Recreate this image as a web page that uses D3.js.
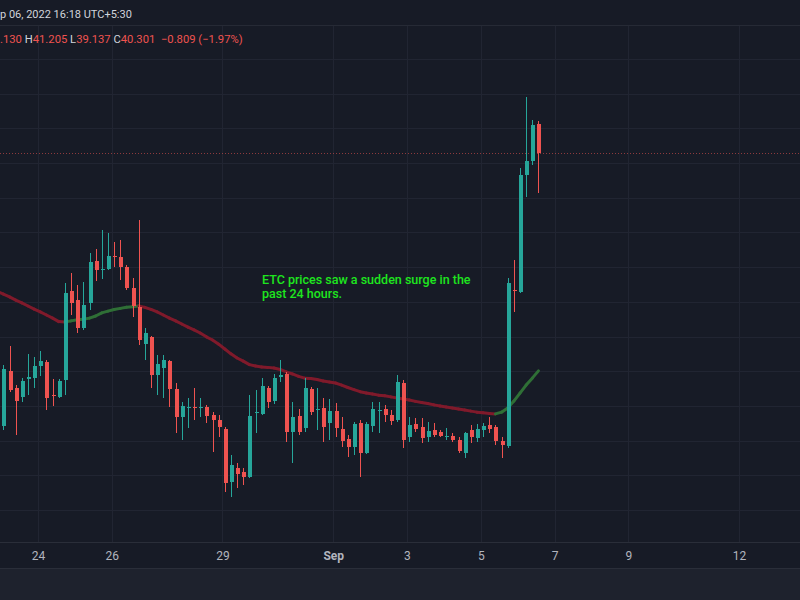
<!DOCTYPE html>
<html>
<head>
<meta charset="utf-8">
<script src="https://cdn.jsdelivr.net/npm/d3@7"></script>
<style>
  html, body { margin: 0; padding: 0; background: #171b26; }
  svg { display: block; }
</style>
</head>
<body>
<svg id="chart" width="800" height="600"></svg>
<script>
// ---------- DATA (ETC/USD, 4h candles, local time UTC+5:30) ----------
const firstCandle = "2022-08-23T01:30";   // first visible 4h bar
const barHours = 4;

const opens  = [32.42,34.01,33.52,33.26,33.78,33.80,34.15,34.27,33.31,33.26,
                33.75,36.31,36.05,35.25,35.97,37.18,36.92,36.94,37.32,37.29,
                37.00,36.40,35.85,34.78,34.99,33.89,34.09,34.29,33.49,32.68,
                32.94,32.97,32.94,32.97,32.74,32.59,32.33,30.81,31.21,31.10,
                30.95,32.80,32.77,33.52,33.14,33.83,33.92,32.25,32.71,32.36,
                33.49,32.88,32.94,32.51,32.85,32.33,32.05,31.82,32.51,31.64,
                32.42,32.85,32.91,32.74,32.59,33.66,32.10,32.48,32.39,32.10,
                32.31,32.25,32.13,32.13,32.02,31.64,32.31,32.08,32.31,32.45,
                32.39,31.99,31.84,36.34,36.28,39.65,40.06,41.130];
const highs  = [34.18,34.73,33.60,33.80,34.50,34.41,34.58,34.32,33.78,33.78,
                36.54,36.83,36.48,36.57,37.41,37.52,38.07,37.98,37.72,37.78,
                37.06,36.69,38.36,35.25,35.02,34.47,34.47,34.32,33.66,33.11,
                33.23,33.52,33.23,33.03,32.82,32.74,32.39,31.59,31.35,31.21,
                33.31,33.46,33.80,33.57,33.92,34.32,33.98,33.11,32.91,33.80,
                33.54,33.52,33.23,33.20,33.08,32.68,32.16,32.54,32.59,32.54,
                33.11,33.11,33.03,32.88,33.89,33.75,32.68,32.65,32.65,32.54,
                32.51,32.31,32.36,32.22,32.10,32.25,32.45,32.48,32.51,32.68,
                32.45,32.10,36.69,37.20,39.86,41.90,41.24,41.205];
const lows   = [32.31,33.40,32.16,33.11,33.31,33.52,33.86,32.88,33.00,33.23,
                33.31,35.62,35.10,35.19,35.76,36.60,36.66,36.92,37.00,36.63,
                36.34,35.56,34.75,34.32,33.52,33.31,33.23,32.97,32.22,32.02,
                32.36,32.59,32.68,32.51,31.67,32.10,30.52,30.37,30.63,30.72,
                30.92,32.22,32.74,32.94,33.06,33.69,31.96,31.35,32.16,32.25,
                32.74,32.31,31.96,32.02,32.10,31.82,31.53,31.59,30.95,31.60,
                32.25,32.22,32.54,32.45,32.54,31.79,31.96,32.25,31.93,31.96,
                32.10,32.10,32.02,31.96,31.64,31.50,31.93,31.96,32.10,32.22,
                31.87,31.50,31.80,35.71,36.25,39.02,39.94,39.137];
const closes = [34.06,33.46,33.14,33.72,33.83,34.15,34.29,33.23,33.29,33.72,
                36.25,35.97,35.25,35.91,37.15,36.92,36.94,37.32,37.29,37.00,
                36.40,35.88,34.90,35.10,33.89,34.21,34.32,33.49,32.68,33.00,
                32.97,32.94,32.97,32.71,32.59,32.39,30.78,31.30,31.04,30.95,
                32.71,32.82,33.57,33.11,33.80,33.89,32.25,32.68,32.25,33.52,
                32.82,32.91,32.39,32.85,32.36,31.99,31.82,32.48,31.64,32.48,
                32.91,32.88,32.74,32.56,33.69,32.02,32.45,32.33,32.08,32.28,
                32.16,32.13,32.14,32.02,31.70,32.22,32.10,32.33,32.42,32.33,
                31.99,31.87,36.54,36.31,39.65,40.06,41.09,40.301];

// moving average, starting one bar before the first visible candle
const maStart = "2022-08-22T21:30";
const maValues = [36.30,
  36.22,36.14,36.05,35.97,35.88,35.79,35.71,35.62,35.53,35.43,
  35.42,35.45,35.48,35.50,35.53,35.59,35.68,35.73,35.78,35.81,
  35.84,35.86,35.88,35.84,35.78,35.71,35.62,35.53,35.45,35.36,
  35.27,35.19,35.10,34.99,34.90,34.78,34.64,34.50,34.38,34.29,
  34.19,34.15,34.12,34.11,34.09,34.05,33.98,33.92,33.85,33.80,
  33.79,33.76,33.72,33.69,33.66,33.60,33.53,33.47,33.41,33.37,
  33.34,33.31,33.29,33.26,33.23,33.20,33.17,33.13,33.10,33.07,
  33.03,33.00,32.97,32.94,32.91,32.88,32.85,32.82,32.80,32.78,
  32.77,32.82,32.94,33.14,33.37,33.60,33.80,34.01];

const tickDates  = ["2022-08-24","2022-08-26","2022-08-29","2022-09-01","2022-09-03",
                    "2022-09-05","2022-09-07","2022-09-09","2022-09-12"];
const tickLabels = ["24","26","29","Sep","3","5","7","9","12"];
const priceGrid  = [30,31,32,33,34,35,36,37,38,39,40,41,42,43,44];

const headerTime = "Sep 06, 2022 16:18 UTC+5:30";
const ohlcLabels = ["O","H","L","C"];
const ohlcValues = ["41.130","41.205","39.137","40.301"];
const changeText = "\u22120.809 (\u22121.97%)";
const noteLines  = ["ETC prices saw a sudden surge in the", "past 24 hours."];

// ---------- LAYOUT ----------
const W = 800, H = 600;
const topY = 25, axisTop = 542, axisBottom = 568;
const FONT = "Roboto, sans-serif";
const C = { bg:"#171b26", grid:"#212532", up:"#26a69a", down:"#ef5350",
            text:"#d1d4dc", axis:"#b2b5be", maUp:"#2f6f36", maDown:"#801a2b" };

const parse = d3.utcParse("%Y-%m-%dT%H:%M");
const parseDay = d3.utcParse("%Y-%m-%d");
const t0 = parse(firstCandle);
const candles = opens.map((o,i) => ({
  t: d3.utcHour.offset(t0, barHours*i), o, h: highs[i], l: lows[i], c: closes[i]
}));
const maT0 = parse(maStart);
const ma = maValues.map((v,i) => ({ t: d3.utcHour.offset(maT0, barHours*i), v }));
const ticks = tickDates.map(parseDay);

const pxPerDay = 36.9;
const x = d3.scaleUtc()
  .domain([t0, d3.utcDay.offset(t0, 20)])
  .range([3.4, 3.4 + 20*pxPerDay]);
const y = d3.scaleLinear().domain([30, 40]).range([510, 163]);

const svg = d3.select("#chart");
svg.append("rect").attr("width", W).attr("height", H).attr("fill", C.bg);

function measure(str, size, weight) {
  const t = svg.append("text").attr("font-family", FONT).attr("font-size", size)
    .attr("font-weight", weight || "normal").text(str);
  const w = t.node().getComputedTextLength();
  t.remove();
  return w;
}

svg.append("clipPath").attr("id","plot").append("rect")
  .attr("x",0).attr("y",topY).attr("width",W).attr("height",axisTop-topY);

const grid = svg.append("g").attr("clip-path","url(#plot)").attr("shape-rendering","crispEdges");
grid.selectAll("line.v").data(ticks).join("line").attr("class","v")
  .attr("x1", d => Math.round(x(d))+0.5).attr("x2", d => Math.round(x(d))+0.5)
  .attr("y1", topY).attr("y2", axisTop).attr("stroke", C.grid);
grid.selectAll("line.h").data(priceGrid).join("line").attr("class","h")
  .attr("x1", 0).attr("x2", W)
  .attr("y1", d => Math.round(y(d))+0.5).attr("y2", d => Math.round(y(d))+0.5)
  .attr("stroke", C.grid);

const plot = svg.append("g").attr("clip-path","url(#plot)");

// moving average, coloured by direction
const maSegs = d3.pairs(ma);
plot.append("g").selectAll("line").data(maSegs).join("line")
  .attr("x1", d => x(d[0].t)).attr("y1", d => y(d[0].v))
  .attr("x2", d => x(d[1].t)).attr("y2", d => y(d[1].v))
  .attr("stroke", d => d[1].v >= d[0].v ? C.maUp : C.maDown)
  .attr("stroke-width", 3).attr("stroke-linecap","round");

// last price dotted line
const last = candles[candles.length-1];
plot.append("line")
  .attr("x1", 0).attr("x2", W)
  .attr("y1", Math.round(y(last.c))+0.5).attr("y2", Math.round(y(last.c))+0.5)
  .attr("stroke", C.down).attr("stroke-opacity", 0.55)
  .attr("stroke-dasharray", "1,2");

// candles
const bw = 4;
const cg = plot.append("g").attr("shape-rendering","crispEdges");
const col = d => d.c >= d.o ? C.up : C.down;
cg.selectAll("line").data(candles).join("line")
  .attr("x1", d => Math.round(x(d.t))+0.5).attr("x2", d => Math.round(x(d.t))+0.5)
  .attr("y1", d => y(d.h)).attr("y2", d => y(d.l))
  .attr("stroke", col).attr("stroke-width", 1);
cg.selectAll("rect").data(candles).join("rect")
  .attr("x", d => Math.round(x(d.t)) - bw/2 + 0.5)
  .attr("width", bw)
  .attr("y", d => y(Math.max(d.o,d.c)))
  .attr("height", d => Math.max(1, Math.abs(y(d.o)-y(d.c))))
  .attr("fill", col);

// annotation (two separate lines)
svg.append("g").selectAll("text").data(noteLines).join("text")
  .attr("x", 262).attr("y", (d,i) => 284 + i*13.5)
  .attr("font-family", FONT).attr("font-size", 12.5).attr("font-weight", 500)
  .attr("fill", "#1ee61e").text(d => d);

// header line 1 — left part ("Se") falls outside the picture like the reference
svg.append("line").attr("x1",0).attr("x2",W).attr("y1",topY+0.5).attr("y2",topY+0.5)
  .attr("stroke","#262a35");
const hVisible = headerTime.slice(2);
const hSize = 12 * 132 / measure(hVisible, 12);
svg.append("text").attr("x", -measure(headerTime.slice(0,2), hSize)).attr("y", 18)
  .attr("font-family", FONT).attr("font-size", hSize)
  .attr("fill", C.text).text(headerTime);

// header line 2 — OHLC, with "O41" cut off at the left edge
const gapL = " ", gapC = "  ";
const visible2 = "." + ohlcValues[0].split(".")[1] + gapL +
  ohlcLabels.slice(1).map((l,i) => l + ohlcValues[i+1]).join(gapL) + gapC + changeText;
const oSize = 12 * 240 / measure(visible2, 12);
const cut = measure(ohlcLabels[0] + ohlcValues[0].split(".")[0], oSize);
const hdr = svg.append("text").attr("x", -cut).attr("y", 43)
  .attr("font-family", FONT).attr("font-size", oSize).attr("xml:space","preserve")
  .style("white-space","pre");
ohlcLabels.forEach((lab,i) => {
  hdr.append("tspan").attr("fill", C.text).text((i ? gapL : "") + lab);
  hdr.append("tspan").attr("fill", C.down).text(ohlcValues[i]);
});
hdr.append("tspan").attr("fill", C.down).text(gapC + changeText);

// time axis
svg.append("rect").attr("x",0).attr("y",axisTop).attr("width",W).attr("height",axisBottom-axisTop)
  .attr("fill", C.bg);
svg.append("line").attr("x1",0).attr("x2",W).attr("y1",axisTop+0.5).attr("y2",axisTop+0.5)
  .attr("stroke","#2a2e39");
const xAxis = d3.axisBottom(x).tickValues(ticks)
  .tickFormat((d,i) => tickLabels[i]).tickSize(0).tickPadding(9);
const ax = svg.append("g").attr("transform", `translate(0,${axisTop})`).call(xAxis);
ax.select(".domain").remove();
ax.selectAll("text").attr("fill", C.axis).attr("font-size", 12)
  .attr("font-family", FONT)
  .attr("font-weight", (d,i) => tickLabels[i] === "Sep" ? "bold" : "normal");

// bottom panel
svg.append("rect").attr("x",0).attr("y",axisBottom).attr("width",W).attr("height",H-axisBottom)
  .attr("fill","#1e222d");
svg.append("line").attr("x1",0).attr("x2",W).attr("y1",axisBottom+0.5).attr("y2",axisBottom+0.5)
  .attr("stroke","#2a2e39");
</script>
</body>
</html>
